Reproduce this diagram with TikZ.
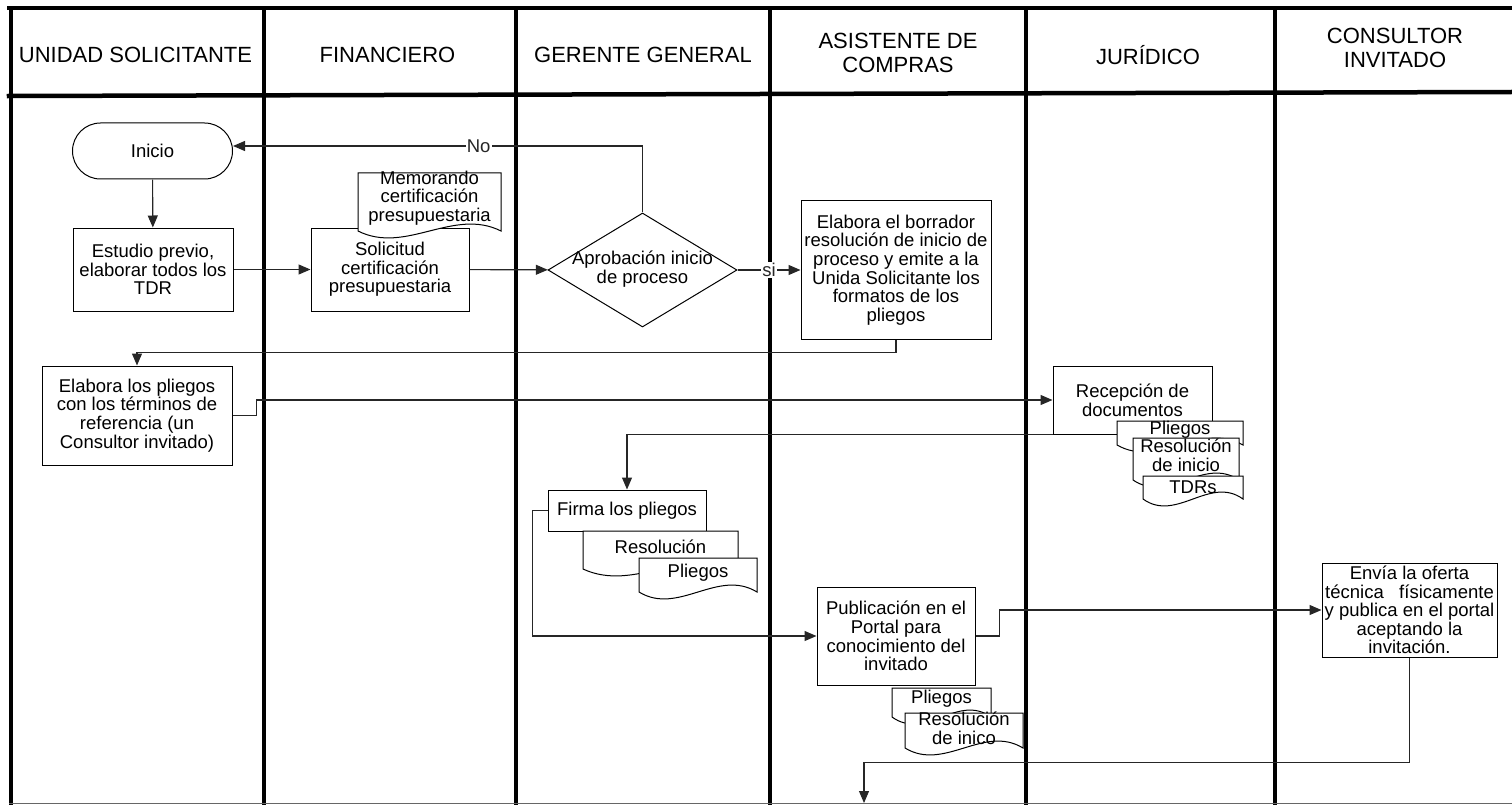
\documentclass[tikz,border=0pt]{standalone}
\usepackage{fontspec}
\setmainfont{Liberation Sans}
\usetikzlibrary{arrows.meta,shapes.geometric,shapes.misc}

\newcommand\bodyfont{\fontsize{18.5}{18.6}\selectfont}
\newcommand\docwave{24}

\tikzset{
  lane/.style={line width=4.5pt, black, line cap=rect},
  hdr/.style={font=\fontsize{22}{23.5}\selectfont, align=center, inner sep=0pt},
  box/.style={draw=black, fill=white, line width=1pt, align=center, inner sep=0pt, font=\bodyfont},
  startbox/.style={box, rounded rectangle, minimum width=160pt, minimum height=56pt},
  decision/.style={box, diamond, minimum width=189pt, minimum height=114pt, aspect=1.66},
  docline/.style={draw=black, fill=white, line width=1pt},
  doctext/.style={font=\bodyfont, align=center, inner sep=0pt},
  link/.style={line width=1.1pt, black!85},
  flow/.style={link, -{Triangle[length=12pt,width=10pt]}},
  lbl/.style={fill=white, inner sep=1pt, font=\bodyfont},
}

% document symbol with a wavy lower edge: name, left, top, right, bottom, text y, text
\newcommand\docshape[7]{%
  \filldraw[docline] (#2,#3) -- (#4,#3) -- (#4,#5)
    .. controls ({#4-(#4-#2)/3},{#5-\docwave}) and ({#2+(#4-#2)/3},{#5+\docwave}) .. (#2,#5) -- cycle;
  \node[doctext] (#1) at ({(#2+#4)/2},#6) {#7};
}

\begin{document}
\begin{tikzpicture}[x=1pt,y=-1pt]
\useasboundingbox (0,0) rectangle (1512,805);

% swimlane frame
\foreach \lx in {11,264,516,770,1026,1275}
  \draw[lane] (\lx,8) -- (\lx,803);
\draw[lane] (9,8) -- (1512,8);
\draw[lane] (9,96) -- (1512,92);
\draw[line width=1.5pt, black!60] (9,803.5) -- (1512,803.5);

% lane titles
\node[hdr] (hUS) at (135.5,55) {UNIDAD SOLICITANTE};
\node[hdr] (hFI) at (387.5,55) {FINANCIERO};
\node[hdr] (hGG) at (643,55) {GERENTE GENERAL};
\node[hdr] (hAC) at (898,53) {ASISTENTE DE\\COMPRAS};
\node[hdr] (hJU) at (1148,55) {JURÍDICO};
\node[hdr] (hCI) at (1395,48) {CONSULTOR\\INVITADO};

% process steps
\node[startbox] (inicio) at (152.5,151) {Inicio};
\node[box, minimum width=160pt, minimum height=83pt] (estudio) at (153,269.5)
  {Estudio previo,\\elaborar todos los\\TDR};
\node[box, minimum width=158pt, minimum height=83pt] (solicitud) at (390,269.5)
  {Solicitud\\certificación\\presupuestaria};
\docshape{memo}{358}{173}{501}{231}{198}{Memorando\\certificación\\presupuestaria}
\node[decision] (aprob) at (642.5,270) {};
\node[doctext] (aprobtxt) at (642.5,269) {Aprobación inicio\\de proceso};
\node[box, minimum width=190pt, minimum height=138pt] (elabora) at (896,270)
  {Elabora el borrador\\resolución de inicio de\\proceso y emite a la\\Unida Solicitante los\\formatos de los\\pliegos};
\node[box, minimum width=190pt, minimum height=99pt] (pliegosU) at (137,415.5)
  {Elabora los pliegos\\con los términos de\\referencia (un\\Consultor invitado)};

\node[box, minimum width=159pt, minimum height=68pt] (recep) at (1132.5,400)
  {Recepción de\\documentos};
\docshape{jPlie}{1117}{421}{1243}{445}{430}{Pliegos}
\docshape{jRes}{1133}{438}{1239}{480}{455}{Resolución\\de inicio}
\docshape{jTdr}{1143}{476}{1243}{499}{487}{TDRs}

\node[box, minimum width=158pt, minimum height=41pt] (firma) at (627,510.5) {Firma los pliegos};
\docshape{gRes}{583}{531}{738}{569}{547}{Resolución}
\docshape{gPlie}{639}{558}{757}{592}{573}{Pliegos}

\node[box, minimum width=158pt, minimum height=98pt] (pub) at (896,636)
  {Publicación en el\\Portal para\\conocimiento del\\invitado};
\docshape{aPlie}{892}{688}{991}{717}{699}{Pliegos}
\docshape{aRes}{905}{713}{1023}{748}{728}{Resolución\\de inico}

\node[box, minimum width=175pt, minimum height=94pt] (envia) at (1409.5,610)
  {Envía la oferta\\técnica\ \ \ físicamente\\y publica en el portal\\aceptando la\\invitación.};

\coordinate (fin) at (864,803);

% connectors
\draw[flow] (inicio) -- (estudio);
\draw[flow] (estudio) -- (solicitud);
\draw[flow] (solicitud) -- (aprob);
\draw[flow] (aprob.north) |- node[lbl, pos=0.7] {No} ([yshift=5pt]inicio.east);
\draw[flow] (aprob) -- node[lbl] {si} (elabora);
\draw[flow] (elabora.south) -- ++(0,13) -| (pliegosU.north);
\draw[flow] (pliegosU.east) -- ++(24,0) |- (recep.west);
\draw[flow] (recep.south west) -| (firma.north);
\draw[flow] (firma.west) -- ++(-15,0) |- (pub.west);
\draw[flow] (pub.east) -- ++(24,0) |- (envia.west);
\draw[flow] (envia.south) -- ++(0,105) -| (fin);
\end{tikzpicture}
\end{document}
